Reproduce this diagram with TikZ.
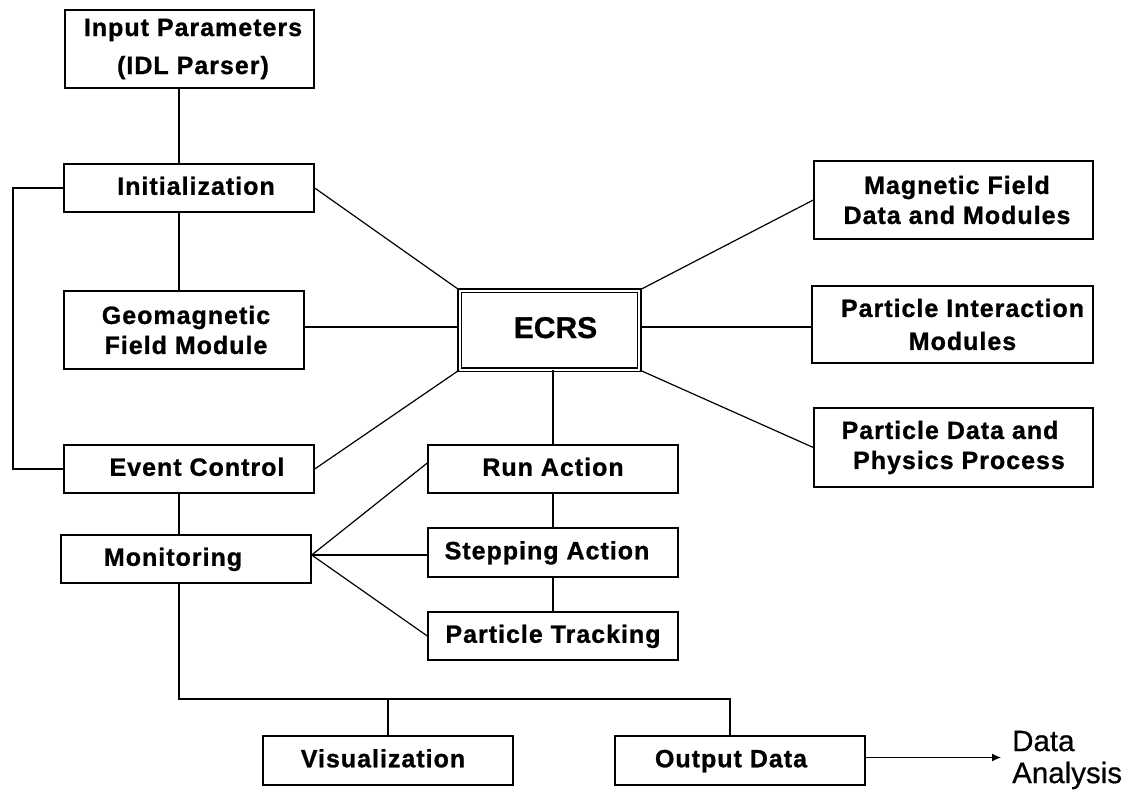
\documentclass[tikz,border=0pt]{standalone}
\usepackage{fontspec}
\setmainfont{Liberation Sans}
\newfontfamily\boxfont{Liberation Sans}[LetterSpace=4, BoldFeatures={FakeBold=1}]
\newfontfamily\bigfont{Liberation Sans}[BoldFeatures={FakeBold=1}]
\newfontfamily\dafont{Liberation Sans}[FakeBold=0.6]
\usetikzlibrary{arrows.meta}
\newcommand\tsh[1]{\hspace*{#1pt}}
\begin{document}
\begin{tikzpicture}[x=1pt,y=-1pt,
  bx/.style={draw, line width=1.4pt, align=center, inner sep=0pt,
    font=\boxfont\bfseries\fontsize{25}{30}\selectfont},
  one/.style={text height=19pt, text depth=5.5pt},
  ln/.style={line width=1.2pt}]
\useasboundingbox (0,0) rectangle (1142,796);
% left column
\node[bx, minimum width=249pt, minimum height=78pt] (inp) at (189.5,49)
  {\tsh{7}Input Parameters\\[8pt]\tsh{7}(IDL Parser)};
\node[bx, one, minimum width=250pt, minimum height=48pt] (init) at (189,188) {\tsh{14}Initialization};
\node[bx, minimum width=240pt, minimum height=78pt] (geo) at (184,330) {\tsh{4}Geomagnetic\\\tsh{4}Field Module};
\node[bx, one, minimum width=250pt, minimum height=48pt] (ec) at (189,469) {\tsh{16}Event Control};
\node[bx, one, minimum width=250pt, minimum height=48pt] (mon) at (186,559) {\tsh{-26}Monitoring};
% centre
\node[bx, one, double, double distance=2pt, line width=1.3pt, minimum width=179.5pt, minimum height=79pt,
  font=\bigfont\bfseries\fontsize{30}{36}\selectfont, text height=22pt, text depth=6pt] (ecrs) at (549.5,330) {\tsh{12}ECRS};
\node[bx, one, minimum width=250pt, minimum height=48pt] (run) at (553,469) {Run Action};
\node[bx, one, minimum width=250pt, minimum height=49pt] (step) at (553,552.5) {\tsh{-12}Stepping Action};
\node[bx, one, minimum width=250pt, minimum height=48pt] (pt) at (553,636) {Particle Tracking};
% right column
\node[bx, minimum width=279pt, minimum height=78pt] (mag) at (953.5,200)
  {\tsh{7}Magnetic Field\\\tsh{7}Data and Modules};
\node[bx, minimum width=281pt, minimum height=77pt] (pi) at (952.5,324.5)
  {\tsh{20}Particle Interaction\\[3pt]\tsh{20}Modules};
\node[bx, minimum width=279pt, minimum height=79pt] (pd) at (953.5,447.5)
  {\tsh{-7}Particle Data and\\\tsh{11}Physics Process};
% bottom
\node[bx, one, minimum width=250pt, minimum height=49pt] (vis) at (388,760.5) {\tsh{-10}Visualization};
\node[bx, one, minimum width=250pt, minimum height=49pt] (od) at (740,760.5) {\tsh{-18}Output Data};
\node[anchor=west, align=left, inner sep=0pt, font=\dafont\fontsize{29.5}{32}\selectfont] (da) at (1012,760)
  {Data\\Analysis};
% helper coordinates
\coordinate (sp) at (179,0);
\coordinate (lb) at (13,0);
\coordinate (bb) at (0,699);
\coordinate (odx) at (730,0);
\coordinate (tip) at (1001,758);
\coordinate (mo) at ([yshift=4pt]mon.east);
% connectors
\draw[ln] (inp.south -| sp) -- (init.north -| sp);
\draw[ln] (init.south -| sp) -- (geo.north -| sp);
\draw[ln] (ec.south -| sp) -- (mon.north -| sp);
\draw[ln] (init.west) -- (init.west -| lb) -- (ec.west -| lb) -- (ec.west);
\draw[ln] (init.east) -- (ecrs.north west);
\draw[ln] ([yshift=3pt]geo.east) -- ([yshift=3pt]geo.east -| ecrs.west);
\draw[ln] (ec.east) -- (ecrs.south west);
\draw[ln] (ecrs.north east) -- (mag.west);
\draw[ln] ([yshift=3pt]ecrs.east) -- ([yshift=3pt]ecrs.east -| pi.west);
\draw[ln] (ecrs.south east) -- (pd.west);
\draw[ln] (run.north) -- (run.north |- ecrs.south);
\draw[ln] (run.south) -- (step.north);
\draw[ln] (step.south) -- (pt.north);
\draw[ln] (mo) -- ([yshift=6pt]run.west);
\draw[ln] (mo) -- (mo -| step.west);
\draw[ln] (mo) -- (pt.west);
\draw[ln] (mon.south -| sp) -- (sp |- bb) -- (bb -| odx) -- (od.north -| odx);
\draw[ln] (vis.north) -- (vis.north |- bb);
\draw[ln, -{Latex[length=9pt,width=8pt]}] ([yshift=3pt]od.east) -- ([yshift=3pt]od.east -| tip);
\end{tikzpicture}
\end{document}
